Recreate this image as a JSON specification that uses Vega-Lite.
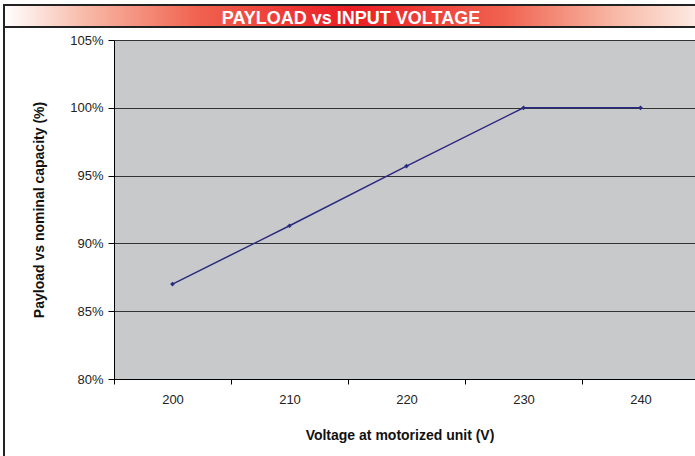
{
  "$schema": "https://vega.github.io/schema/vega-lite/v6.json",
  "autosize": "none",
  "width": 585,
  "height": 339,
  "padding": {"left": 114, "top": 40, "right": 0, "bottom": 77},
  "background": "white",
  "view": {"fill": "#C8C9CB", "stroke": null},
  "config": {
    "font": "Liberation Sans",
    "axis": {
      "labelFont": "Liberation Sans",
      "labelFontSize": 13,
      "labelColor": "#222222",
      "titleFont": "Liberation Sans",
      "titleFontSize": 14,
      "titleFontWeight": "bold",
      "titleColor": "#111111",
      "domainColor": "#000000",
      "tickColor": "#000000"
    }
  },
  "data": {
    "values": [
      {"voltage": "200", "payload": 0.87},
      {"voltage": "210", "payload": 0.913},
      {"voltage": "220", "payload": 0.957},
      {"voltage": "230", "payload": 1.0},
      {"voltage": "240", "payload": 1.0}
    ]
  },
  "layer": [
    {
      "data": {"values": [{"label": "PAYLOAD vs INPUT VOLTAGE"}]},
      "mark": {"type": "rect", "clip": false, "stroke": "#222222", "strokeWidth": 2,
        "fill": {"gradient": "linear", "x1": 0, "x2": 1, "y1": 0, "y2": 0,
          "stops": [
            {"offset": 0, "color": "#FFFFFF"},
            {"offset": 0.12, "color": "#F8B8A6"},
            {"offset": 0.28, "color": "#F0624F"},
            {"offset": 0.5, "color": "#EC1C24"},
            {"offset": 0.72, "color": "#F0624F"},
            {"offset": 0.88, "color": "#F8B8A6"},
            {"offset": 1, "color": "#FDEBE3"}
          ]}},
      "encoding": {
        "x": {"value": -110},
        "x2": {"value": 584},
        "y": {"value": -35},
        "y2": {"value": -13}
      }
    },
    {
      "data": {"values": [{"label": "PAYLOAD vs INPUT VOLTAGE"}]},
      "mark": {"type": "rect", "clip": false, "fill": null, "stroke": "#222222", "strokeWidth": 2},
      "encoding": {
        "x": {"value": -110},
        "x2": {"value": 600},
        "y": {"value": -35},
        "y2": {"value": 430}
      }
    },
    {
      "data": {"values": [{"label": "PAYLOAD vs INPUT VOLTAGE"}]},
      "mark": {"type": "text", "clip": false, "color": "white", "fontSize": 18, "fontWeight": "bold", "font": "Liberation Sans", "align": "center", "baseline": "alphabetic"},
      "encoding": {
        "text": {"field": "label"},
        "x": {"value": 237},
        "y": {"value": -16}
      }
    },
    {
      "mark": {"type": "line", "color": "#2B2A80", "strokeWidth": 1.5,
        "point": {"shape": "diamond", "size": 22, "filled": true, "color": "#2B2A80"}},
      "encoding": {
        "x": {
          "field": "voltage", "type": "ordinal",
          "scale": {"type": "band", "paddingInner": 0, "paddingOuter": 0},
          "axis": {"title": "Voltage at motorized unit (V)", "labelAngle": 0, "tickBand": "extent", "tickSize": 5, "labelPadding": 9, "titlePadding": 22, "titleX": 285.5, "grid": false}
        },
        "y": {
          "field": "payload", "type": "quantitative",
          "scale": {"domain": [0.8, 1.05], "nice": false, "zero": false},
          "axis": {"title": "Payload vs nominal capacity (%)", "values": [0.8, 0.85, 0.9, 0.95, 1.0, 1.05], "format": ".0%", "tickSize": 6, "labelPadding": 5, "titlePadding": 23, "grid": true, "gridColor": "#333333", "gridWidth": 1, "gridOpacity": 1}
        }
      }
    }
  ]
}
